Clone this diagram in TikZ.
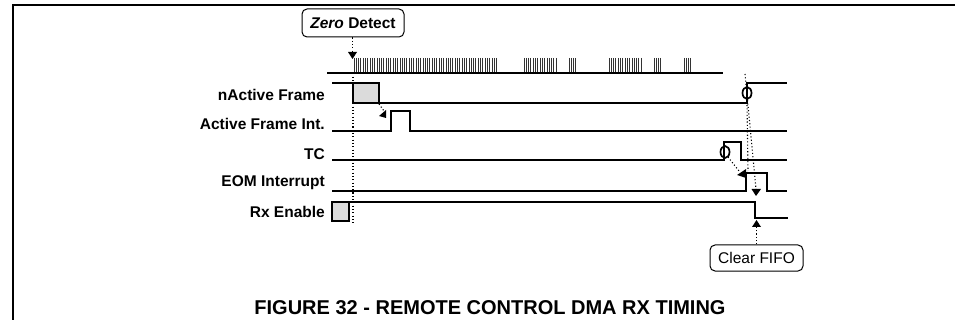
\documentclass[tikz,border=0pt]{standalone}
\usepackage{fontspec}
\setmainfont{Liberation Sans}
\begin{document}
\begin{tikzpicture}[x=1pt,y=-1pt,
  sig/.style={line width=2.1pt},
  gbox/.style={draw,line width=1.2pt,fill=black!14},
  dotl/.style={line width=1.1pt,dash pattern=on 1.1pt off 2.2pt},
  tk/.style={line width=0.9pt,black!80},
  lab/.style={anchor=east,inner sep=0pt,font=\fontsize{15.5}{18}\selectfont\bfseries},
  call/.style={draw,rounded corners=5pt,line width=1pt,inner sep=0pt,font=\fontsize{15.5}{18}\selectfont},
  head/.style={fill=black}]
\useasboundingbox (0,0) rectangle (955,320);
% frame
\draw[line width=2.6pt] (13,320) -- (13,5) -- (955,5);
% callout boxes
\node[call,minimum width=102pt,minimum height=28pt,font=\fontsize{15.5}{18}\selectfont\bfseries] (zd) at (353,23) {\textit{Zero} Detect};
\node[call,minimum width=93pt,minimum height=26pt] (cf) at (756.5,258) {Clear FIFO};
% zero detect marker
\coordinate (zdt) at (352.5,52);
\draw[dotl] (zd.south -| zdt) -- (zdt);
\fill[head] (348,52) -- (357,52) -- (352.5,59) -- cycle;
% data line
\draw[sig] (327,73) -- (723,73);
\foreach \x in {354,356.3,...,497} \draw[tk] (\x,58) -- (\x,72);
\foreach \x in {524,526.3,...,557} \draw[tk] (\x,58) -- (\x,72);
\foreach \x in {569,571.3,...,578} \draw[tk] (\x,58) -- (\x,72);
\foreach \x in {609,611.3,...,642} \draw[tk] (\x,58) -- (\x,72);
\foreach \x in {654,656.3,...,663} \draw[tk] (\x,58) -- (\x,72);
\foreach \x in {684,686.3,...,693} \draw[tk] (\x,58) -- (\x,72);
% labels
\node[lab] (l1) at (325,95) {nActive Frame};
\node[lab] (l2) at (325,124) {Active Frame Int.};
\node[lab] (l3) at (325,154) {TC};
\node[lab] (l4) at (325,183) {EOM Interrupt};
\node[lab] (l5) at (325,212) {Rx Enable};
% vertical dotted line from zero detect
\draw[dotl] (353,77) -- (353,225);
% nActive Frame
\draw[sig] (332,83) -- (353,83);
\draw[gbox] (353,83) rectangle (379,103);
\draw[sig] (379,103) -- (747,103) -- (747,83) -- (787,83);
\draw[line width=1.7pt] (747,93) ellipse [x radius=4.5pt,y radius=6pt];
% Active Frame Int.
\draw[sig] (332,131) -- (391,131) -- (391,111) -- (410,111) -- (410,131) -- (787,131);
\draw[dotl] (379,104) -- (384,111);
\fill[head] (386,110) -- (386,118) -- (379,116) -- cycle;
% TC
\draw[sig] (332,160) -- (724,160) -- (724,142) -- (741,142) -- (741,160) -- (787,160);
\draw[line width=1.7pt] (725,152) ellipse [x radius=4.5pt,y radius=6pt];
% EOM Interrupt
\draw[sig] (332,191) -- (746,191) -- (746,173) -- (767,173) -- (767,191) -- (787,191);
\draw[dotl] (728,157) -- (739,171);
\fill[head] (746,169) -- (746,178) -- (737,175) -- cycle;
% Rx Enable
\draw[gbox] (332,202) rectangle (349,221);
\draw[sig] (349,202) -- (755,202) -- (755,218) -- (788,218);
% dotted cause lines
\draw[dotl] (745,74) -- (756,189);
\draw[dotl] (747,105) -- (748,171);
\fill[head] (751.5,189) -- (761,189) -- (756,196) -- cycle;
% clear FIFO marker
\coordinate (cft) at (756.5,227);
\draw[dotl] (cf.north -| cft) -- (cft);
\fill[head] (752,227) -- (761,227) -- (756.5,220) -- cycle;
% title
\node[font=\fontsize{20}{24}\selectfont\bfseries,inner sep=0pt] (title) at (490,308) {FIGURE 32 - REMOTE CONTROL DMA RX TIMING};
\end{tikzpicture}
\end{document}
